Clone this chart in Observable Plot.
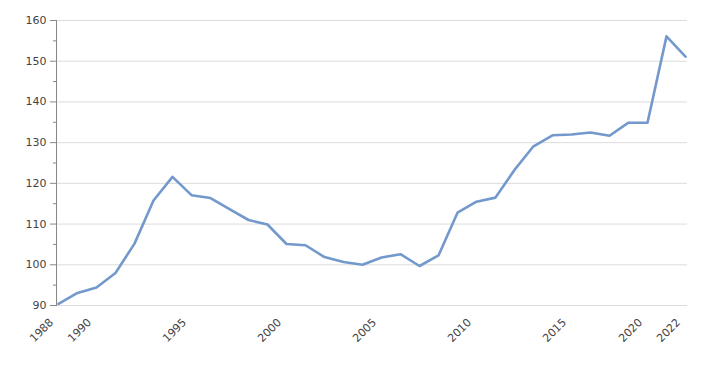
<!DOCTYPE html>
<html>
<head>
<meta charset="utf-8">
<script src="https://cdn.jsdelivr.net/npm/d3@7"></script>
<script src="https://cdn.jsdelivr.net/npm/@observablehq/plot@0.6"></script>
<style>
  html, body { margin: 0; padding: 0; background: #fff; }
  #chart { width: 718px; height: 370px; }
</style>
</head>
<body>
<div id="chart"></div>
<script>
const years = [1988, 1989, 1990, 1991, 1992, 1993, 1994, 1995, 1996, 1997,
  1998, 1999, 2000, 2001, 2002, 2003, 2004, 2005, 2006, 2007,
  2008, 2009, 2010, 2011, 2012, 2013, 2014, 2015, 2016, 2017,
  2018, 2020, 2021, 2022];
const values = [90.4, 93.1, 94.4, 98.0, 105.2, 115.8, 121.6, 117.1, 116.4, 113.7,
  111.0, 109.9, 105.1, 104.8, 101.9, 100.7, 100.0, 101.8, 102.6, 99.7,
  102.3, 112.8, 115.5, 116.5, 123.3, 129.1, 131.8, 132.0, 132.5, 131.7,
  134.9, 134.9, 156.1, 151.1];
const xTickLabels = [1988, 1990, 1995, 2000, 2005, 2010, 2015, 2020, 2022];
const yTicks = [90, 100, 110, 120, 130, 140, 150, 160];
const yMinorTicks = [95, 105, 115, 125, 135, 145, 155];

const data = years.map((y, i) => ({year: y, value: values[i]}));

const font = "DejaVu Sans, sans-serif";

const chart = Plot.plot({
  width: 718,
  height: 370,
  marginLeft: 56,
  marginRight: 31,
  marginTop: 20,
  marginBottom: 65,
  style: {fontFamily: font, fontSize: "11px", color: "#444", background: "#fff"},
  x: {type: "point", domain: years, padding: 0},
  y: {domain: [90, 160]},
  marks: [
    Plot.gridY(yTicks, {stroke: "#dcdcdc", strokeOpacity: 1, strokeWidth: 1}),
    Plot.axisY(yMinorTicks, {tickSize: 3, text: null, stroke: "#888", label: null}),
    Plot.axisY(yTicks, {tickSize: 6, tickPadding: 4, stroke: "#888", fill: "#444", label: null}),
    Plot.frame({anchor: "left", stroke: "#888"}),
    Plot.axisX(xTickLabels, {tickSize: 0, tickRotate: -45, tickPadding: 6, dx: -7, dy: 9, fill: "#444", label: null, tickFormat: d => String(d)}),
    Plot.line(data, {x: "year", y: "value", stroke: "#7399cc", strokeWidth: 2.6, strokeLinejoin: "round"})
  ]
});
document.getElementById("chart").appendChild(chart);
</script>
</body>
</html>
